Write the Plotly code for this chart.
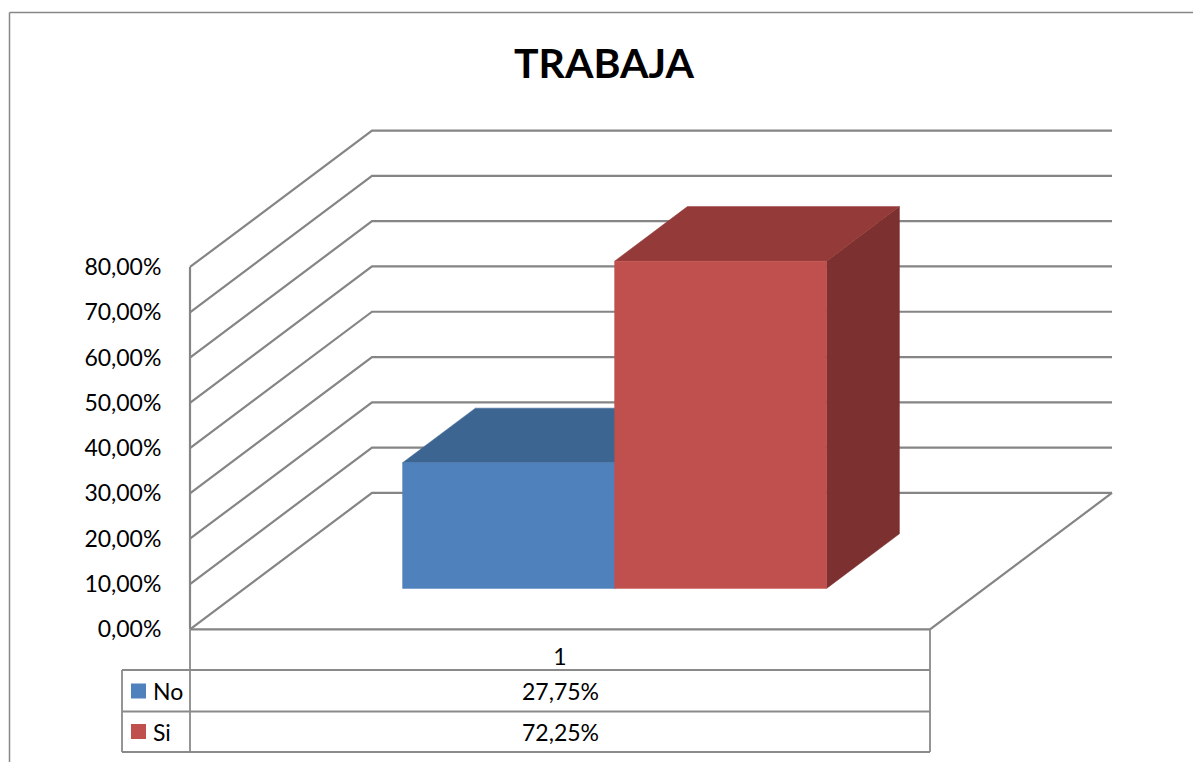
import plotly.graph_objects as go

# ---------------- data ----------------
categories = ["1"]
series_names = ["No", "Si"]
values = [27.75, 72.25]          # percent
y_ticks = [0, 10, 20, 30, 40, 50, 60, 70, 80]
title_text = "TRABAJA"

# ---------------- style ----------------
front_colors = ["#4F81BD", "#C0504D"]
top_colors = ["#3D6591", "#943A39"]
side_colors = ["#33557B", "#7C3030"]
grid_color = "#858585"
table_color = "#8A8A8A"
FONT = "Lato"
FS = 23

W, H = 1193, 762
# axis geometry (pixel mapping of the front plane)
PX_X0, PX_PER_X = 190.0, 740.0      # x=0 -> 190px, x=1 -> 930px
PX_Y0, PX_PER_PCT = 629.3, 4.529    # y=0% -> 629.3px
DX = 182.0 / PX_PER_X               # full depth offset in x units
DY = 136.4 / PX_PER_PCT             # full depth offset in percent units
F0, F1 = 0.30, 0.70                 # bar depth span (fraction of depth)
GROUP_W = 0.573                     # total width of the bar group


def fmt_pct(v):
    return f"{v:.2f}".replace(".", ",") + "%"


def px(xp):
    return xp / W


def py(yp):
    return 1 - yp / H


fig = go.Figure()

# --- walls / floor gridlines ---
for t in y_ticks:
    fig.add_trace(go.Scatter(
        x=[0, DX, 1 + DX], y=[t, t + DY, t + DY], mode="lines",
        line=dict(color=grid_color, width=2.2), hoverinfo="skip", showlegend=False))
# floor front edge + right edge
fig.add_trace(go.Scatter(
    x=[0, 1, 1 + DX], y=[0, 0, DY], mode="lines",
    line=dict(color=grid_color, width=2.2), hoverinfo="skip", showlegend=False))
# left front vertical edge
fig.add_trace(go.Scatter(
    x=[0, 0], y=[0, y_ticks[-1]], mode="lines",
    line=dict(color=grid_color, width=2.2), hoverinfo="skip", showlegend=False))

# --- 3D bars ---
bar_w = GROUP_W / len(values)
x_start = 0.5 - GROUP_W / 2
for i, v in enumerate(values):
    xl = x_start + i * bar_w
    xr = xl + bar_w
    b0 = F0 * DY
    b1 = F1 * DY
    # side face
    fig.add_trace(go.Scatter(
        x=[xr + F0 * DX, xr + F1 * DX, xr + F1 * DX, xr + F0 * DX, xr + F0 * DX],
        y=[b0, b1, b1 + v, b0 + v, b0],
        mode="lines", fill="toself", fillcolor=side_colors[i],
        line=dict(width=0.5, color=side_colors[i]), hoverinfo="skip", showlegend=False))
    # top face
    fig.add_trace(go.Scatter(
        x=[xl + F0 * DX, xr + F0 * DX, xr + F1 * DX, xl + F1 * DX, xl + F0 * DX],
        y=[b0 + v, b0 + v, b1 + v, b1 + v, b0 + v],
        mode="lines", fill="toself", fillcolor=top_colors[i],
        line=dict(width=0.5, color=top_colors[i]), hoverinfo="skip", showlegend=False))
    # front face
    fig.add_trace(go.Scatter(
        x=[xl + F0 * DX, xr + F0 * DX, xr + F0 * DX, xl + F0 * DX, xl + F0 * DX],
        y=[b0, b0, b0 + v, b0 + v, b0],
        mode="lines", fill="toself", fillcolor=front_colors[i],
        line=dict(width=0.5, color=front_colors[i]), hoverinfo="skip", showlegend=False))

# --- axes ---
fig.update_xaxes(
    range=[(0 - PX_X0) / PX_PER_X, (W - PX_X0) / PX_PER_X],
    domain=[0, 1], anchor="free", position=py(630),
    tickmode="array", tickvals=[0.5], ticktext=categories,
    ticks="outside", ticklen=6, tickcolor="rgba(0,0,0,0)",
    tickfont=dict(family=FONT, size=FS, color="#000000"),
    showgrid=False, zeroline=False, showline=False, fixedrange=True)
fig.update_yaxes(
    range=[(PX_Y0 - H) / PX_PER_PCT, PX_Y0 / PX_PER_PCT],
    domain=[0, 1], anchor="free", position=px(PX_X0),
    tickmode="array", tickvals=y_ticks, ticktext=[fmt_pct(t) for t in y_ticks],
    ticks="outside", ticklen=24, tickcolor="rgba(0,0,0,0)",
    tickfont=dict(family=FONT, size=FS, color="#000000"),
    showgrid=False, zeroline=False, showline=False, fixedrange=True)

shapes = []
# outer chart border (left and top)
shapes.append(dict(type="line", xref="paper", yref="paper",
                   x0=px(9.5), y0=py(12.5), x1=px(9.5), y1=0,
                   line=dict(color="#888888", width=1.5)))
shapes.append(dict(type="line", xref="paper", yref="paper",
                   x0=px(9.5), y0=py(12.5), x1=1, y1=py(12.5),
                   line=dict(color="#888888", width=1.5)))

# data table
row_y = [670, 711.5, 752]
for yy in row_y:
    shapes.append(dict(type="line", xref="paper", yref="paper",
                       x0=px(122), x1=px(930), y0=py(yy), y1=py(yy),
                       line=dict(color=table_color, width=1.8)))
for xx, ytop in [(122, 670), (190, 629.3), (930, 629.3)]:
    shapes.append(dict(type="line", xref="paper", yref="paper",
                       x0=px(xx), x1=px(xx), y0=py(ytop), y1=py(752),
                       line=dict(color=table_color, width=1.8)))

annotations = []
row_centers = [691, 731.5]
for i, name in enumerate(series_names):
    yc = row_centers[i]
    shapes.append(dict(type="rect", xref="paper", yref="paper",
                       x0=px(131), x1=px(146), y0=py(yc - 7.5), y1=py(yc + 7.5),
                       fillcolor=front_colors[i], line=dict(width=0)))
    annotations.append(dict(xref="paper", yref="paper", x=px(151), y=py(yc),
                            xanchor="left", yanchor="middle", text=name, showarrow=False,
                            font=dict(family=FONT, size=FS, color="#000000")))
    annotations.append(dict(xref="paper", yref="paper", x=px(560), y=py(yc),
                            xanchor="center", yanchor="middle", text=fmt_pct(values[i]),
                            showarrow=False,
                            font=dict(family=FONT, size=FS, color="#000000")))

# title
annotations.append(dict(xref="paper", yref="paper", x=px(604), y=py(63),
                        xanchor="center", yanchor="middle", text=f"<b>{title_text}</b>",
                        showarrow=False, font=dict(family=FONT, size=41, color="#000000")))

fig.update_layout(
    width=W, height=H, margin=dict(l=0, r=0, t=0, b=0, pad=0),
    paper_bgcolor="#FFFFFF", plot_bgcolor="#FFFFFF",
    showlegend=False, shapes=shapes, annotations=annotations,
    hovermode=False)

fig.write_html("out.html", config={"displayModeBar": False},
               post_script="document.body.style.margin='0';document.body.style.overflow='hidden';")
